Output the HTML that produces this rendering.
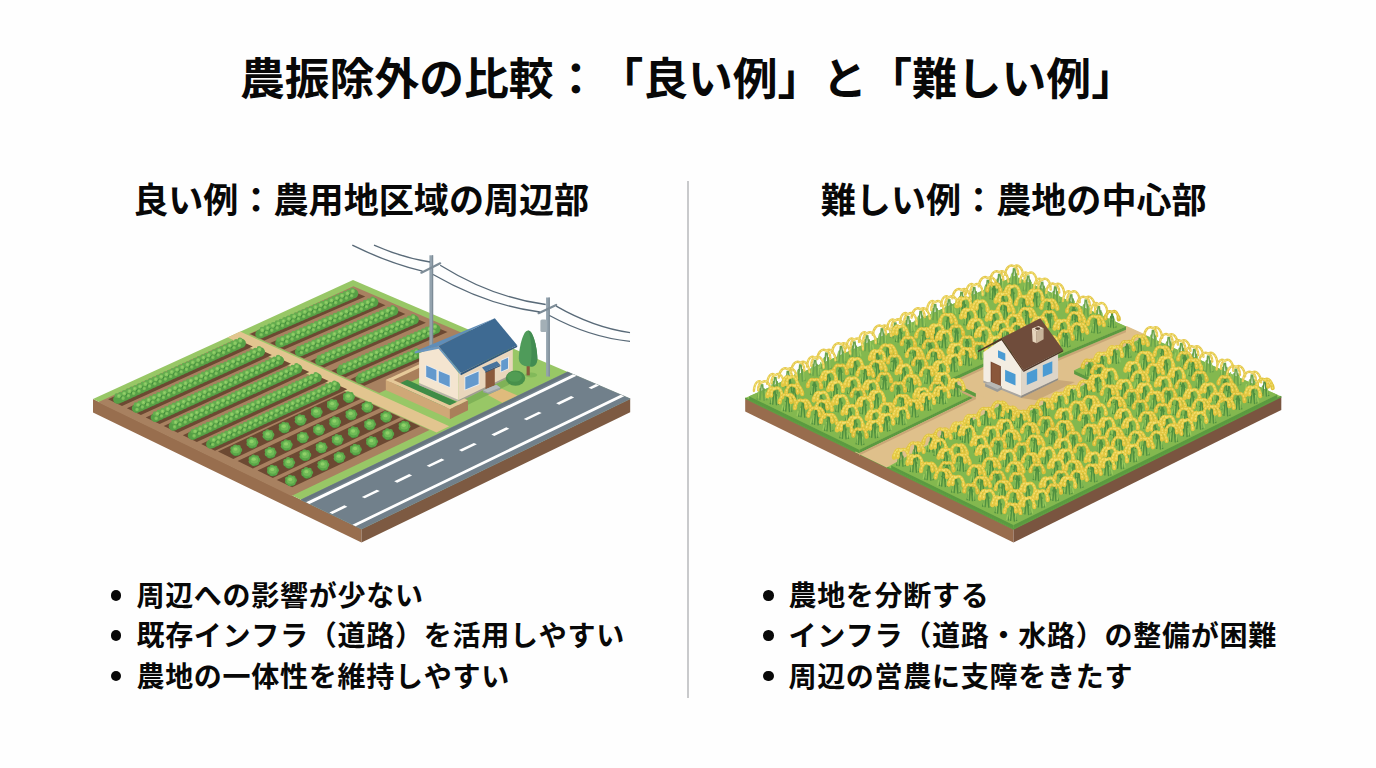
<!DOCTYPE html>
<html lang="ja"><head><meta charset="utf-8"><title>農振除外の比較</title>
<style>
html,body{margin:0;padding:0;background:#fefefe;}
body{width:1376px;height:768px;position:relative;overflow:hidden;font-family:"Liberation Sans", "Noto Sans CJK JP", sans-serif;color:#080808;}
.t{position:absolute;white-space:nowrap;font-weight:700;line-height:1;text-spacing-trim:space-all;font-kerning:none;}
#title{left:240px;top:56.5px;font-size:44.8px;letter-spacing:0px;}
.sub{font-size:35.1px;}
#sub1{left:133.2px;top:183px;}
#sub2{left:820.8px;top:183px;}
.li{font-size:28px;font-weight:700;letter-spacing:0.74px;}
.dot{position:absolute;width:10.5px;height:10.5px;border-radius:50%;background:#080808;}
#divider{position:absolute;left:686.8px;top:181px;width:2.4px;height:516.7px;background:#c9cacc;}
svg{position:absolute;left:0;top:0;filter:blur(0.45px);}
</style></head>
<body>
<svg width="1376" height="768" viewBox="0 0 1376 768">
<defs>
<g id="ra" transform="scale(1.06)"><path d="M-1.8,9L-.5,-5M1.8,9.5L.5,-5M-4,8.5L-1.4,-1M4,9L1.4,-1" stroke="#4f9040" stroke-width="1.3" fill="none"/><path d="M-3,7.5L-2.2,0M3.2,8L2.6,1M-5.5,8L-4.6,3" stroke="#9ccb5e" stroke-width="1" fill="none"/><path d="M-.3,-6.5C-3.5,-8.6 -7,-5.5 -7.6,.6M.3,-6.5C3.5,-8.6 7,-5 7.6,1.6M0,-6.3C1.6,-6.4 3.2,-4 3.3,.2" stroke="#e1c43e" stroke-width="2.8" stroke-linecap="round" fill="none"/><path d="M-7.2,-1.6L-7.6,.4M7.2,-.6L7.6,1.4M3.2,-1.6L3.3,0" stroke="#e1c43e" stroke-width="3.9" stroke-linecap="round" fill="none"/><path d="M-.3,-6.5C-3.5,-8.6 -7,-5.5 -7.6,.6M.3,-6.5C3.5,-8.6 7,-5 7.6,1.6M0,-6.3C1.6,-6.4 3.2,-4 3.3,.2" stroke="#f0dc68" stroke-width="1.3" stroke-linecap="round" stroke-dasharray="1 2" fill="none"/></g>
<g id="rb" transform="scale(1.06)"><path d="M-1.6,9L-.4,-4.5M2,9.5L.6,-4.5M-4,8.5L-1.4,-1M4.2,9L1.6,-1" stroke="#4f9040" stroke-width="1.3" fill="none"/><path d="M-3,7.5L-2.2,0M3.4,8L2.8,1M5.6,8L4.8,3.4" stroke="#9ccb5e" stroke-width="1" fill="none"/><path d="M-.3,-6C-3,-8.4 -6.2,-5.5 -6.6,1.2M.3,-6C3.8,-8.8 7.4,-4.6 7.3,2.2M-.1,-5.8C-1.6,-6 -3,-3.6 -3,.6" stroke="#e4c842" stroke-width="2.8" stroke-linecap="round" fill="none"/><path d="M-6.4,-1L-6.6,1M7.3,.2L7.3,2M-3,-1L-3,.4" stroke="#e4c842" stroke-width="3.9" stroke-linecap="round" fill="none"/><path d="M-.3,-6C-3,-8.4 -6.2,-5.5 -6.6,1.2M.3,-6C3.8,-8.8 7.4,-4.6 7.3,2.2M-.1,-5.8C-1.6,-6 -3,-3.6 -3,.6" stroke="#f2e070" stroke-width="1.3" stroke-linecap="round" stroke-dasharray="1 2" fill="none"/></g>
<g id="rc" transform="scale(1.06)"><path d="M-1.4,9L-.2,-5M1.6,9.5L.3,-5M-3.6,8.5L-1,-2M3.8,9L1,-2" stroke="#4f9040" stroke-width="1.3" fill="none"/><path d="M-2.8,7.5L-2,0M3,8L2.4,1" stroke="#9ccb5e" stroke-width="1" fill="none"/><path d="M-.3,-5.6C-3,-7.6 -5.8,-5 -6.2,.4M.3,-5.6C3.2,-7.8 6,-4.6 6.4,1.4" stroke="#dcbe3a" stroke-width="2.8" stroke-linecap="round" fill="none"/><path d="M-6,-1.6L-6.2,.2M6.2,-.6L6.4,1.2" stroke="#dcbe3a" stroke-width="3.9" stroke-linecap="round" fill="none"/><path d="M-.3,-5.6C-3,-7.6 -5.8,-5 -6.2,.4M.3,-5.6C3.2,-7.8 6,-4.6 6.4,1.4" stroke="#eed862" stroke-width="1.3" stroke-linecap="round" stroke-dasharray="1 2" fill="none"/></g>
<g id="fa" transform="scale(1.2)"><path d="M-1.8,9L-.5,-5M1.8,9.5L.5,-5M-4,8.5L-1.4,-1M4,9L1.4,-1" stroke="#6aa44c" stroke-width="1.3" fill="none"/><path d="M-3,7.5L-2.2,0M3.2,8L2.6,1M-5.5,8L-4.6,3" stroke="#9ccb5e" stroke-width="1" fill="none"/><path d="M-.3,-6.5C-3.5,-8.6 -7,-5.5 -7.6,.6M.3,-6.5C3.5,-8.6 7,-5 7.6,1.6M0,-6.3C1.6,-6.4 3.2,-4 3.3,.2" stroke="#e4c84c" stroke-width="2.0" stroke-linecap="round" fill="none"/><path d="M-.3,-6.5C-3.5,-8.6 -7,-5.5 -7.6,.6M.3,-6.5C3.5,-8.6 7,-5 7.6,1.6M0,-6.3C1.6,-6.4 3.2,-4 3.3,.2" stroke="#f1de78" stroke-width="0.9" stroke-linecap="round" stroke-dasharray="1 2" fill="none"/></g>
<g id="fb" transform="scale(1.2)"><path d="M-1.6,9L-.4,-4.5M2,9.5L.6,-4.5M-4,8.5L-1.4,-1M4.2,9L1.6,-1" stroke="#6aa44c" stroke-width="1.3" fill="none"/><path d="M-3,7.5L-2.2,0M3.4,8L2.8,1M5.6,8L4.8,3.4" stroke="#9ccb5e" stroke-width="1" fill="none"/><path d="M-.3,-6C-3,-8.4 -6.2,-5.5 -6.6,1.2M.3,-6C3.8,-8.8 7.4,-4.6 7.3,2.2M-.1,-5.8C-1.6,-6 -3,-3.6 -3,.6" stroke="#e6cc50" stroke-width="2.0" stroke-linecap="round" fill="none"/><path d="M-.3,-6C-3,-8.4 -6.2,-5.5 -6.6,1.2M.3,-6C3.8,-8.8 7.4,-4.6 7.3,2.2M-.1,-5.8C-1.6,-6 -3,-3.6 -3,.6" stroke="#f2e07c" stroke-width="0.9" stroke-linecap="round" stroke-dasharray="1 2" fill="none"/></g>
<g id="cb" transform="scale(0.93)"><circle r="5.7" cy=".6" fill="#4a933f"/><circle cx="4.1" cy="-0.2" r="2.5" fill="#5aa749"/><circle cx="2.6" cy="2.6" r="2.5" fill="#5aa749"/><circle cx="-0.9" cy="3.3" r="2.5" fill="#5aa749"/><circle cx="-3.7" cy="1.4" r="2.5" fill="#5aa749"/><circle cx="-3.7" cy="-1.8" r="2.5" fill="#5aa749"/><circle cx="-0.9" cy="-3.7" r="2.5" fill="#5aa749"/><circle cx="2.6" cy="-3.0" r="2.5" fill="#5aa749"/><ellipse rx="4.2" ry="3.8" cy="-.4" fill="#70ba57"/><ellipse cx="-.6" cy="-1.2" rx="2.2" ry="1.8" fill="#8fd068"/></g>
</defs>
<g id="left">
<polygon points="93,399 361.5,529.1 361.5,542.6 93,412.5" fill="#986e4e"/>
<polygon points="361.5,529.1 630.2,398.8 630.2,412.3 361.5,542.6" fill="#7d5a42"/>
<polygon points="353,280 630.2,398.8 361.5,529.1 93,399" fill="#98c766"/>
<polygon points="353.4,286.2 472.3,337.3 366.2,387.2 248.8,334.1" fill="#a88160"/>
<polygon points="438.2,352.1 452.8,358.5 379.3,393.1 364.8,386.6" fill="#a88160"/>
<polygon points="232.9,340.4 429.5,429.9 291.4,495.9 98.1,402.2" fill="#a88160"/>
<polygon points="240.2,331.6 449.3,426.3 436.5,432.4 227.7,337.4" fill="#e2c58f"/>
<polygon points="567.6,372 630.2,398.8 361.5,529.1 301.1,499.8" fill="#71808b" stroke="#71808b" stroke-width="0.7"/>
<polygon points="567.6,372 570.9,373.4 304.3,501.4 301.1,499.8" fill="#66757f"/>
<polygon points="573,374.3 576.6,375.8 309.5,503.9 306.1,502.2" fill="#fff"/>
<polygon points="620.8,394.8 624.1,396.2 355.6,526.2 352.4,524.7" fill="#fff"/>
<polygon points="596,384.1 599,385.4 591.5,389 588.5,387.7" fill="#fff"/>
<polygon points="571.1,396.1 574.1,397.4 559.1,404.7 556.1,403.3" fill="#fff"/>
<polygon points="538.7,411.7 541.7,413 526.7,420.3 523.7,418.9" fill="#fff"/>
<polygon points="506.3,427.3 509.3,428.7 494.3,435.9 491.3,434.5" fill="#fff"/>
<polygon points="473.9,442.9 476.9,444.3 461.9,451.5 458.9,450.1" fill="#fff"/>
<polygon points="441.5,458.5 444.5,459.9 429.5,467.1 426.6,465.7" fill="#fff"/>
<polygon points="409.2,474.1 412.1,475.5 397.2,482.7 394.2,481.3" fill="#fff"/>
<polygon points="376.8,489.7 379.8,491.1 364.8,498.3 361.8,496.9" fill="#fff"/>
<polygon points="344.4,505.3 347.4,506.7 332.4,513.9 329.4,512.5" fill="#fff"/>
<polygon points="350.9,290.4 365.3,296.6 264.4,340.5 250.2,334" fill="#6c4932"/>
<line x1="354.8" y1="295.7" x2="260.7" y2="336.3" stroke="#3f893b" stroke-width="4.8" stroke-linecap="round" stroke-dasharray="0 4.4" stroke-dashoffset="0"/>
<line x1="353.8" y1="293.5" x2="259.8" y2="334.1" stroke="#57a046" stroke-width="9.0" stroke-linecap="round"/>
<line x1="353.7" y1="293.2" x2="259.6" y2="333.8" stroke="#3f8a3b" stroke-width="2.2" stroke-linecap="round" stroke-dasharray="0 5.8" stroke-dashoffset="1.4"/>
<line x1="352.3" y1="290.1" x2="258.3" y2="330.7" stroke="#64ad4f" stroke-width="4.6" stroke-linecap="round" stroke-dasharray="0 4.1" stroke-dashoffset="0"/>
<line x1="352.8" y1="291.2" x2="258.8" y2="331.8" stroke="#84c65f" stroke-width="3.9" stroke-linecap="round" stroke-dasharray="0 5.8" stroke-dashoffset="0"/>
<line x1="354.3" y1="294.6" x2="260.2" y2="335.2" stroke="#7bbf5a" stroke-width="3.6" stroke-linecap="round" stroke-dasharray="0 5.8" stroke-dashoffset="2.9"/>
<line x1="352.7" y1="291" x2="258.7" y2="331.6" stroke="#9ad270" stroke-width="1.6" stroke-linecap="round" stroke-dasharray="0 5.8" stroke-dashoffset="0"/>
<line x1="354.2" y1="294.4" x2="260.2" y2="335" stroke="#8fca68" stroke-width="1.4" stroke-linecap="round" stroke-dasharray="0 5.8" stroke-dashoffset="2.9"/>
<polygon points="371.1,299.1 385.5,305.3 284.3,349.5 270.1,343.1" fill="#6c4932"/>
<line x1="375" y1="304.4" x2="280.7" y2="345.3" stroke="#3f893b" stroke-width="4.8" stroke-linecap="round" stroke-dasharray="0 4.4" stroke-dashoffset="0"/>
<line x1="374" y1="302.2" x2="279.7" y2="343.1" stroke="#57a046" stroke-width="9.0" stroke-linecap="round"/>
<line x1="373.9" y1="301.9" x2="279.6" y2="342.8" stroke="#3f8a3b" stroke-width="2.2" stroke-linecap="round" stroke-dasharray="0 5.8" stroke-dashoffset="1.4"/>
<line x1="372.5" y1="298.8" x2="278.3" y2="339.7" stroke="#64ad4f" stroke-width="4.6" stroke-linecap="round" stroke-dasharray="0 4.1" stroke-dashoffset="0"/>
<line x1="373" y1="299.9" x2="278.7" y2="340.8" stroke="#84c65f" stroke-width="3.9" stroke-linecap="round" stroke-dasharray="0 5.8" stroke-dashoffset="0"/>
<line x1="374.5" y1="303.3" x2="280.2" y2="344.2" stroke="#7bbf5a" stroke-width="3.6" stroke-linecap="round" stroke-dasharray="0 5.8" stroke-dashoffset="2.9"/>
<line x1="372.9" y1="299.7" x2="278.7" y2="340.6" stroke="#9ad270" stroke-width="1.6" stroke-linecap="round" stroke-dasharray="0 5.8" stroke-dashoffset="0"/>
<line x1="374.4" y1="303.1" x2="280.1" y2="344" stroke="#8fca68" stroke-width="1.4" stroke-linecap="round" stroke-dasharray="0 5.8" stroke-dashoffset="2.9"/>
<polygon points="391,307.7 405.4,313.9 304,358.4 289.8,352" fill="#6c4932"/>
<line x1="394.9" y1="313" x2="300.4" y2="354.2" stroke="#3f893b" stroke-width="4.8" stroke-linecap="round" stroke-dasharray="0 4.4" stroke-dashoffset="0"/>
<line x1="393.9" y1="310.8" x2="299.4" y2="352" stroke="#57a046" stroke-width="9.0" stroke-linecap="round"/>
<line x1="393.8" y1="310.5" x2="299.3" y2="351.7" stroke="#3f8a3b" stroke-width="2.2" stroke-linecap="round" stroke-dasharray="0 5.8" stroke-dashoffset="1.4"/>
<line x1="392.5" y1="307.4" x2="298" y2="348.6" stroke="#64ad4f" stroke-width="4.6" stroke-linecap="round" stroke-dasharray="0 4.1" stroke-dashoffset="0"/>
<line x1="392.9" y1="308.5" x2="298.4" y2="349.7" stroke="#84c65f" stroke-width="3.9" stroke-linecap="round" stroke-dasharray="0 5.8" stroke-dashoffset="0"/>
<line x1="394.4" y1="311.9" x2="299.9" y2="353.1" stroke="#7bbf5a" stroke-width="3.6" stroke-linecap="round" stroke-dasharray="0 5.8" stroke-dashoffset="2.9"/>
<line x1="392.9" y1="308.3" x2="298.4" y2="349.5" stroke="#9ad270" stroke-width="1.6" stroke-linecap="round" stroke-dasharray="0 5.8" stroke-dashoffset="0"/>
<line x1="394.3" y1="311.7" x2="299.8" y2="352.9" stroke="#8fca68" stroke-width="1.4" stroke-linecap="round" stroke-dasharray="0 5.8" stroke-dashoffset="2.9"/>
<polygon points="411.5,316.6 425.9,322.8 324.3,367.5 310.1,361.1" fill="#6c4932"/>
<line x1="415.4" y1="321.8" x2="320.6" y2="363.3" stroke="#3f893b" stroke-width="4.8" stroke-linecap="round" stroke-dasharray="0 4.4" stroke-dashoffset="0"/>
<line x1="414.4" y1="319.6" x2="319.7" y2="361.1" stroke="#57a046" stroke-width="9.0" stroke-linecap="round"/>
<line x1="414.3" y1="319.4" x2="319.6" y2="360.8" stroke="#3f8a3b" stroke-width="2.2" stroke-linecap="round" stroke-dasharray="0 5.8" stroke-dashoffset="1.4"/>
<line x1="412.9" y1="316.2" x2="318.2" y2="357.7" stroke="#64ad4f" stroke-width="4.6" stroke-linecap="round" stroke-dasharray="0 4.1" stroke-dashoffset="0"/>
<line x1="413.4" y1="317.3" x2="318.7" y2="358.8" stroke="#84c65f" stroke-width="3.9" stroke-linecap="round" stroke-dasharray="0 5.8" stroke-dashoffset="0"/>
<line x1="414.9" y1="320.7" x2="320.2" y2="362.2" stroke="#7bbf5a" stroke-width="3.6" stroke-linecap="round" stroke-dasharray="0 5.8" stroke-dashoffset="2.9"/>
<line x1="413.3" y1="317.2" x2="318.6" y2="358.6" stroke="#9ad270" stroke-width="1.6" stroke-linecap="round" stroke-dasharray="0 5.8" stroke-dashoffset="0"/>
<line x1="414.8" y1="320.6" x2="320.1" y2="362" stroke="#8fca68" stroke-width="1.4" stroke-linecap="round" stroke-dasharray="0 5.8" stroke-dashoffset="2.9"/>
<polygon points="433.1,325.9 447.5,332.1 345.6,377.2 331.4,370.7" fill="#6c4932"/>
<line x1="437" y1="331.2" x2="342" y2="372.9" stroke="#3f893b" stroke-width="4.8" stroke-linecap="round" stroke-dasharray="0 4.4" stroke-dashoffset="0"/>
<line x1="436" y1="329" x2="341" y2="370.7" stroke="#57a046" stroke-width="9.0" stroke-linecap="round"/>
<line x1="435.9" y1="328.7" x2="340.9" y2="370.5" stroke="#3f8a3b" stroke-width="2.2" stroke-linecap="round" stroke-dasharray="0 5.8" stroke-dashoffset="1.4"/>
<line x1="434.5" y1="325.6" x2="339.5" y2="367.3" stroke="#64ad4f" stroke-width="4.6" stroke-linecap="round" stroke-dasharray="0 4.1" stroke-dashoffset="0"/>
<line x1="435" y1="326.7" x2="340" y2="368.4" stroke="#84c65f" stroke-width="3.9" stroke-linecap="round" stroke-dasharray="0 5.8" stroke-dashoffset="0"/>
<line x1="436.5" y1="330.1" x2="341.5" y2="371.8" stroke="#7bbf5a" stroke-width="3.6" stroke-linecap="round" stroke-dasharray="0 5.8" stroke-dashoffset="2.9"/>
<line x1="434.9" y1="326.5" x2="339.9" y2="368.3" stroke="#9ad270" stroke-width="1.6" stroke-linecap="round" stroke-dasharray="0 5.8" stroke-dashoffset="0"/>
<line x1="436.4" y1="329.9" x2="341.4" y2="371.6" stroke="#8fca68" stroke-width="1.4" stroke-linecap="round" stroke-dasharray="0 5.8" stroke-dashoffset="2.9"/>
<polygon points="414.7,350.7 429,356.9 364.5,385.7 350.3,379.3" fill="#6c4932"/>
<line x1="418.5" y1="356" x2="360.9" y2="381.4" stroke="#3f893b" stroke-width="4.8" stroke-linecap="round" stroke-dasharray="0 4.4" stroke-dashoffset="0"/>
<line x1="417.5" y1="353.8" x2="359.9" y2="379.2" stroke="#57a046" stroke-width="9.0" stroke-linecap="round"/>
<line x1="417.4" y1="353.5" x2="359.8" y2="379" stroke="#3f8a3b" stroke-width="2.2" stroke-linecap="round" stroke-dasharray="0 5.8" stroke-dashoffset="1.4"/>
<line x1="416.1" y1="350.4" x2="358.4" y2="375.9" stroke="#64ad4f" stroke-width="4.6" stroke-linecap="round" stroke-dasharray="0 4.1" stroke-dashoffset="0"/>
<line x1="416.5" y1="351.5" x2="358.9" y2="377" stroke="#84c65f" stroke-width="3.9" stroke-linecap="round" stroke-dasharray="0 5.8" stroke-dashoffset="0"/>
<line x1="418" y1="354.9" x2="360.4" y2="380.3" stroke="#7bbf5a" stroke-width="3.6" stroke-linecap="round" stroke-dasharray="0 5.8" stroke-dashoffset="2.9"/>
<line x1="416.5" y1="351.3" x2="358.8" y2="376.8" stroke="#9ad270" stroke-width="1.6" stroke-linecap="round" stroke-dasharray="0 5.8" stroke-dashoffset="0"/>
<line x1="417.9" y1="354.7" x2="360.3" y2="380.2" stroke="#8fca68" stroke-width="1.4" stroke-linecap="round" stroke-dasharray="0 5.8" stroke-dashoffset="2.9"/>
<polygon points="238.6,339.9 252.8,346.4 122,405.9 108.1,399.2" fill="#6c4932"/>
<line x1="242.4" y1="345.3" x2="118.6" y2="401.5" stroke="#3f893b" stroke-width="4.8" stroke-linecap="round" stroke-dasharray="0 4.4" stroke-dashoffset="0"/>
<line x1="241.4" y1="343.1" x2="117.6" y2="399.3" stroke="#57a046" stroke-width="9.0" stroke-linecap="round"/>
<line x1="241.3" y1="342.8" x2="117.4" y2="399.1" stroke="#3f8a3b" stroke-width="2.2" stroke-linecap="round" stroke-dasharray="0 5.8" stroke-dashoffset="1.4"/>
<line x1="239.9" y1="339.7" x2="116" y2="396" stroke="#64ad4f" stroke-width="4.6" stroke-linecap="round" stroke-dasharray="0 4.1" stroke-dashoffset="0"/>
<line x1="240.4" y1="340.8" x2="116.5" y2="397.1" stroke="#84c65f" stroke-width="3.9" stroke-linecap="round" stroke-dasharray="0 5.8" stroke-dashoffset="0"/>
<line x1="241.9" y1="344.2" x2="118.1" y2="400.4" stroke="#7bbf5a" stroke-width="3.6" stroke-linecap="round" stroke-dasharray="0 5.8" stroke-dashoffset="2.9"/>
<line x1="240.3" y1="340.6" x2="116.5" y2="396.9" stroke="#9ad270" stroke-width="1.6" stroke-linecap="round" stroke-dasharray="0 5.8" stroke-dashoffset="0"/>
<line x1="241.8" y1="344" x2="118" y2="400.2" stroke="#8fca68" stroke-width="1.4" stroke-linecap="round" stroke-dasharray="0 5.8" stroke-dashoffset="2.9"/>
<polygon points="257.7,348.6 271.9,355.1 140.9,415 126.9,408.3" fill="#6c4932"/>
<line x1="261.5" y1="354" x2="137.4" y2="410.6" stroke="#3f893b" stroke-width="4.8" stroke-linecap="round" stroke-dasharray="0 4.4" stroke-dashoffset="0"/>
<line x1="260.5" y1="351.8" x2="136.4" y2="408.4" stroke="#57a046" stroke-width="9.0" stroke-linecap="round"/>
<line x1="260.4" y1="351.5" x2="136.3" y2="408.1" stroke="#3f8a3b" stroke-width="2.2" stroke-linecap="round" stroke-dasharray="0 5.8" stroke-dashoffset="1.4"/>
<line x1="259" y1="348.4" x2="134.9" y2="405" stroke="#64ad4f" stroke-width="4.6" stroke-linecap="round" stroke-dasharray="0 4.1" stroke-dashoffset="0"/>
<line x1="259.5" y1="349.5" x2="135.4" y2="406.1" stroke="#84c65f" stroke-width="3.9" stroke-linecap="round" stroke-dasharray="0 5.8" stroke-dashoffset="0"/>
<line x1="261" y1="352.9" x2="136.9" y2="409.5" stroke="#7bbf5a" stroke-width="3.6" stroke-linecap="round" stroke-dasharray="0 5.8" stroke-dashoffset="2.9"/>
<line x1="259.4" y1="349.3" x2="135.3" y2="406" stroke="#9ad270" stroke-width="1.6" stroke-linecap="round" stroke-dasharray="0 5.8" stroke-dashoffset="0"/>
<line x1="260.9" y1="352.7" x2="136.8" y2="409.3" stroke="#8fca68" stroke-width="1.4" stroke-linecap="round" stroke-dasharray="0 5.8" stroke-dashoffset="2.9"/>
<polygon points="276.8,357.3 291,363.8 159.7,424.1 145.7,417.4" fill="#6c4932"/>
<line x1="280.6" y1="362.7" x2="156.2" y2="419.7" stroke="#3f893b" stroke-width="4.8" stroke-linecap="round" stroke-dasharray="0 4.4" stroke-dashoffset="0"/>
<line x1="279.6" y1="360.5" x2="155.2" y2="417.5" stroke="#57a046" stroke-width="9.0" stroke-linecap="round"/>
<line x1="279.5" y1="360.2" x2="155.1" y2="417.2" stroke="#3f8a3b" stroke-width="2.2" stroke-linecap="round" stroke-dasharray="0 5.8" stroke-dashoffset="1.4"/>
<line x1="278.1" y1="357.1" x2="153.7" y2="414.1" stroke="#64ad4f" stroke-width="4.6" stroke-linecap="round" stroke-dasharray="0 4.1" stroke-dashoffset="0"/>
<line x1="278.6" y1="358.2" x2="154.2" y2="415.2" stroke="#84c65f" stroke-width="3.9" stroke-linecap="round" stroke-dasharray="0 5.8" stroke-dashoffset="0"/>
<line x1="280.1" y1="361.6" x2="155.7" y2="418.6" stroke="#7bbf5a" stroke-width="3.6" stroke-linecap="round" stroke-dasharray="0 5.8" stroke-dashoffset="2.9"/>
<line x1="278.5" y1="358" x2="154.1" y2="415" stroke="#9ad270" stroke-width="1.6" stroke-linecap="round" stroke-dasharray="0 5.8" stroke-dashoffset="0"/>
<line x1="280" y1="361.4" x2="155.6" y2="418.4" stroke="#8fca68" stroke-width="1.4" stroke-linecap="round" stroke-dasharray="0 5.8" stroke-dashoffset="2.9"/>
<polygon points="295.1,365.6 309.3,372.1 177.7,432.8 163.7,426" fill="#6c4932"/>
<line x1="298.9" y1="371" x2="174.2" y2="428.4" stroke="#3f893b" stroke-width="4.8" stroke-linecap="round" stroke-dasharray="0 4.4" stroke-dashoffset="0"/>
<line x1="297.9" y1="368.8" x2="173.2" y2="426.2" stroke="#57a046" stroke-width="9.0" stroke-linecap="round"/>
<line x1="297.8" y1="368.5" x2="173.1" y2="425.9" stroke="#3f8a3b" stroke-width="2.2" stroke-linecap="round" stroke-dasharray="0 5.8" stroke-dashoffset="1.4"/>
<line x1="296.4" y1="365.4" x2="171.7" y2="422.8" stroke="#64ad4f" stroke-width="4.6" stroke-linecap="round" stroke-dasharray="0 4.1" stroke-dashoffset="0"/>
<line x1="296.9" y1="366.5" x2="172.2" y2="423.9" stroke="#84c65f" stroke-width="3.9" stroke-linecap="round" stroke-dasharray="0 5.8" stroke-dashoffset="0"/>
<line x1="298.4" y1="369.9" x2="173.7" y2="427.3" stroke="#7bbf5a" stroke-width="3.6" stroke-linecap="round" stroke-dasharray="0 5.8" stroke-dashoffset="2.9"/>
<line x1="296.8" y1="366.4" x2="172.1" y2="423.7" stroke="#9ad270" stroke-width="1.6" stroke-linecap="round" stroke-dasharray="0 5.8" stroke-dashoffset="0"/>
<line x1="298.3" y1="369.7" x2="173.6" y2="427.1" stroke="#8fca68" stroke-width="1.4" stroke-linecap="round" stroke-dasharray="0 5.8" stroke-dashoffset="2.9"/>
<polygon points="314.5,374.4 328.7,380.9 196.8,442 182.8,435.3" fill="#6c4932"/>
<line x1="318.3" y1="379.8" x2="193.3" y2="437.6" stroke="#3f893b" stroke-width="4.8" stroke-linecap="round" stroke-dasharray="0 4.4" stroke-dashoffset="0"/>
<line x1="317.3" y1="377.6" x2="192.3" y2="435.4" stroke="#57a046" stroke-width="9.0" stroke-linecap="round"/>
<line x1="317.2" y1="377.4" x2="192.2" y2="435.1" stroke="#3f8a3b" stroke-width="2.2" stroke-linecap="round" stroke-dasharray="0 5.8" stroke-dashoffset="1.4"/>
<line x1="315.7" y1="374.3" x2="190.8" y2="432" stroke="#64ad4f" stroke-width="4.6" stroke-linecap="round" stroke-dasharray="0 4.1" stroke-dashoffset="0"/>
<line x1="316.2" y1="375.4" x2="191.3" y2="433.1" stroke="#84c65f" stroke-width="3.9" stroke-linecap="round" stroke-dasharray="0 5.8" stroke-dashoffset="0"/>
<line x1="317.8" y1="378.7" x2="192.8" y2="436.5" stroke="#7bbf5a" stroke-width="3.6" stroke-linecap="round" stroke-dasharray="0 5.8" stroke-dashoffset="2.9"/>
<line x1="316.2" y1="375.2" x2="191.2" y2="432.9" stroke="#9ad270" stroke-width="1.6" stroke-linecap="round" stroke-dasharray="0 5.8" stroke-dashoffset="0"/>
<line x1="317.7" y1="378.5" x2="192.7" y2="436.3" stroke="#8fca68" stroke-width="1.4" stroke-linecap="round" stroke-dasharray="0 5.8" stroke-dashoffset="2.9"/>
<polygon points="333.1,382.9 347.3,389.3 215,450.8 201.1,444.1" fill="#6c4932"/>
<line x1="336.9" y1="388.3" x2="211.6" y2="446.4" stroke="#3f893b" stroke-width="4.8" stroke-linecap="round" stroke-dasharray="0 4.4" stroke-dashoffset="0"/>
<line x1="335.9" y1="386.1" x2="210.6" y2="444.2" stroke="#57a046" stroke-width="9.0" stroke-linecap="round"/>
<line x1="335.7" y1="385.8" x2="210.5" y2="443.9" stroke="#3f8a3b" stroke-width="2.2" stroke-linecap="round" stroke-dasharray="0 5.8" stroke-dashoffset="1.4"/>
<line x1="334.3" y1="382.7" x2="209" y2="440.8" stroke="#64ad4f" stroke-width="4.6" stroke-linecap="round" stroke-dasharray="0 4.1" stroke-dashoffset="0"/>
<line x1="334.8" y1="383.8" x2="209.5" y2="441.9" stroke="#84c65f" stroke-width="3.9" stroke-linecap="round" stroke-dasharray="0 5.8" stroke-dashoffset="0"/>
<line x1="336.4" y1="387.2" x2="211.1" y2="445.3" stroke="#7bbf5a" stroke-width="3.6" stroke-linecap="round" stroke-dasharray="0 5.8" stroke-dashoffset="2.9"/>
<line x1="334.7" y1="383.6" x2="209.5" y2="441.7" stroke="#9ad270" stroke-width="1.6" stroke-linecap="round" stroke-dasharray="0 5.8" stroke-dashoffset="0"/>
<line x1="336.3" y1="387" x2="211" y2="445.1" stroke="#8fca68" stroke-width="1.4" stroke-linecap="round" stroke-dasharray="0 5.8" stroke-dashoffset="2.9"/>
<polygon points="344.8,391.9 360.4,399 233.3,458.9 218,451.5" fill="#6c4932"/>
<use href="#cb" x="348.8" y="397.1"/>
<use href="#cb" x="332.7" y="404.7"/>
<use href="#cb" x="316.6" y="412.3"/>
<use href="#cb" x="300.5" y="419.9"/>
<use href="#cb" x="284.4" y="427.4"/>
<use href="#cb" x="268.3" y="435"/>
<use href="#cb" x="252.2" y="442.6"/>
<use href="#cb" x="236.1" y="450.2"/>
<polygon points="364.8,401 380.3,408.1 252.9,468.4 237.6,461" fill="#6c4932"/>
<use href="#cb" x="367.3" y="406.9"/>
<use href="#cb" x="351.2" y="414.5"/>
<use href="#cb" x="335" y="422.1"/>
<use href="#cb" x="318.9" y="429.8"/>
<use href="#cb" x="302.7" y="437.4"/>
<use href="#cb" x="286.6" y="445"/>
<use href="#cb" x="270.4" y="452.6"/>
<use href="#cb" x="254.3" y="460.3"/>
<polygon points="385,410.2 400.5,417.3 272.8,478 257.5,470.6" fill="#6c4932"/>
<use href="#cb" x="386.1" y="416.8"/>
<use href="#cb" x="369.9" y="424.4"/>
<use href="#cb" x="353.7" y="432.1"/>
<use href="#cb" x="337.5" y="439.8"/>
<use href="#cb" x="321.4" y="447.5"/>
<use href="#cb" x="305.2" y="455.1"/>
<use href="#cb" x="289" y="462.8"/>
<use href="#cb" x="272.8" y="470.5"/>
<polygon points="404.6,419.1 420.2,426.2 292.2,487.3 276.8,479.9" fill="#6c4932"/>
<use href="#cb" x="404.3" y="426.4"/>
<use href="#cb" x="388.1" y="434.1"/>
<use href="#cb" x="371.9" y="441.8"/>
<use href="#cb" x="355.7" y="449.6"/>
<use href="#cb" x="339.4" y="457.3"/>
<use href="#cb" x="323.2" y="465"/>
<use href="#cb" x="307" y="472.8"/>
<use href="#cb" x="290.8" y="480.5"/>
<rect x="429.4" y="255.3" width="3.7" height="94.7" fill="#93a2ad"/>
<rect x="432" y="255.3" width="1.2" height="94.7" fill="#7d8c97"/>
<line x1="421.4" y1="272.7" x2="440.2" y2="263.3" stroke="#7d8c97" stroke-width="2.2" stroke-linecap="round"/>
<polygon points="385.9,380 389.7,381.7 389.7,391.7 385.9,390" fill="#cfa877"/>
<polygon points="389.7,381.7 443.4,356.4 443.4,366.4 389.7,391.7" fill="#a97f5a"/>
<polygon points="439.6,354.7 443.4,356.4 389.7,381.7 385.9,380" fill="#e6c999"/>
<polygon points="394.2,389.4 446.8,413 460.4,406.5 407.7,383" fill="#347c3d"/>
<polygon points="395.6,385.2 448.1,408.9 459.9,403.3 407.2,379.7" fill="#3f8c47"/>
<polygon points="484.2,393.1 497.5,386.8 517.4,395.5 502.2,402.8" fill="#dfbb7c"/>
<polygon points="458.6,401.9 512.8,375.6 520.6,378.9 467.5,405" fill="#7fb257"/>
<polygon points="419.1,382.8 458.6,399.7 458.6,401.9 419.1,385.2" fill="#b9b3aa"/>
<polygon points="458.6,399.7 512.8,373.4 512.8,375.6 458.6,401.9" fill="#a39d94"/>
<polygon points="419.1,353.1 438.6,346.6 458.6,373.1 458.6,400 419.1,383.1" fill="#f4e5d0"/>
<polygon points="458.6,373.1 512.8,349.1 512.8,373.8 458.6,400" fill="#e9d6bc"/>
<polygon points="425.6,364.7 437,369.5 437,382.2 425.6,377.2" fill="#e8eef4"/>
<polygon points="438.1,370 450.3,375.2 450.3,388 438.1,382.8" fill="#e8eef4"/>
<polygon points="426.2,365.6 436.4,370 436.4,381.2 426.2,376.7" fill="#6399cd"/>
<polygon points="438.8,370.9 449.7,375.6 449.7,387 438.8,382.3" fill="#6399cd"/>
<polygon points="464.5,376.6 479.4,370.3 479.4,384.7 464.5,390.6" fill="#e8eef4"/>
<polygon points="465.3,377.2 478.6,371.6 478.6,384.1 465.3,389.5" fill="#6399cd"/>
<polygon points="500.5,360.2 508.8,356.6 508.8,369.1 500.5,372.5" fill="#e8eef4"/>
<polygon points="501.2,360.8 508,357.8 508,368.4 501.2,371.4" fill="#6399cd"/>
<polygon points="485.5,371.6 494.8,367.7 494.8,385.5 485.5,389.4" fill="#8a5a3c"/>
<polygon points="483.1,390.3 496.4,384.7 500.3,387.5 500.3,389.4 489.4,394.1 483.1,392.2" fill="#9aa0a4"/>
<polygon points="483.1,390.3 496.4,384.7 500.3,387.5 487.8,392.5" fill="#b4babd"/>
<polygon points="414.7,351.6 494.8,318.3 438.6,346.2" fill="#5f8db8"/>
<polygon points="438.6,346.2 494.8,318.3 517.2,345.3 460.9,373.1" fill="#3e6a92"/>
<polygon points="414.7,351.6 438.6,346.2 460.9,373.1 460.9,375.3 438.6,348.8 414.7,353.4" fill="#6a97c0"/>
<polygon points="460.9,373.1 517.2,345.3 517.2,346.9 460.9,375.3" fill="#33597c"/>
<polygon points="482,367.5 496.9,361.2 500.3,365 485.3,371.6" fill="#46739d"/>
<polygon points="485.3,371.6 500.3,365 500.3,366.2 485.3,372.8" fill="#33597c"/>
<ellipse cx="515.5" cy="378.1" rx="9.8" ry="7.6" fill="#47904b"/>
<ellipse cx="514.5" cy="376.6" rx="7.4" ry="5.2" fill="#519c53"/>
<ellipse cx="531.1" cy="374.9" rx="6" ry="2.5" fill="#82b95a"/>
<rect x="526.6" y="364.4" width="3.2" height="11" fill="#8a5a3c"/>
<path d="M528.1 330.4C533.6 330.4 537.4 349.4 537.4 358.4C537.4 368.9 518.8 368.9 518.8 358.4C518.8 349.4 522.6 330.4 528.1 330.4Z" fill="#4f9b5a"/>
<path d="M528.1 330.4C533.6 330.4 537.4 349.4 537.4 358.4C537.4 367.9 530.1 366.9 530.1 366.4C533.1 352.4 531.1 336.4 528.1 330.4Z" fill="#428c52"/>
<polygon points="385.9,380 449.9,408.9 449.9,418.9 385.9,390" fill="#cfa877"/>
<polygon points="449.9,408.9 453.7,407.1 453.7,417.1 449.9,418.9" fill="#a97f5a"/>
<polygon points="389.6,378.3 453.7,407.1 449.9,408.9 385.9,380" fill="#e6c999"/>
<polygon points="446.1,407.1 449.9,408.9 449.9,418.9 446.1,417.1" fill="#cfa877"/>
<polygon points="449.9,408.9 468,400.2 468,410.2 449.9,418.9" fill="#a97f5a"/>
<polygon points="464.2,398.5 468,400.2 449.9,408.9 446.1,407.1" fill="#e6c999"/>
<rect x="546.1" y="297.5" width="3.7" height="79" fill="#93a2ad"/>
<rect x="548.6" y="297.5" width="1.2" height="79" fill="#7d8c97"/>
<line x1="538.6" y1="313.2" x2="556.2" y2="305" stroke="#7d8c97" stroke-width="2.2" stroke-linecap="round"/>
<rect x="540.4" y="319.4" width="6.4" height="12.6" rx="1.6" fill="#a3afb6"/>
<path d="M352.3 245.2Q387.4 262.6 422.5 271.2" fill="none" stroke="#596a78" stroke-width="1.35"/>
<path d="M374 245.2Q402 257.6 430 262" fill="none" stroke="#596a78" stroke-width="1.35"/>
<path d="M440.2 265.2Q493 297.9 545.7 304.5" fill="none" stroke="#596a78" stroke-width="1.35"/>
<path d="M433.1 274.5Q486.4 305.2 539.8 312" fill="none" stroke="#596a78" stroke-width="1.35"/>
<path d="M556.2 306.2Q593.1 327.4 630 332.7" fill="none" stroke="#596a78" stroke-width="1.35"/>
<path d="M549.5 315.5Q589.8 337.4 630 341.3" fill="none" stroke="#596a78" stroke-width="1.35"/>
</g>
<g id="right">
<polygon points="745.2,398.1 1013.5,528.9 1013.5,542.4 745.2,411.6" fill="#986c4d"/>
<polygon points="1013.5,528.9 1281.3,396.5 1281.3,410 1013.5,542.4" fill="#7a5540"/>
<polygon points="1014.5,276 1281.3,396.5 1013.5,528.9 745.2,398.1" fill="#8fc357"/>
<path d="M745.2 398.1L1013.5 528.9L1281.3 396.5" fill="none" stroke="#5f9f42" stroke-width="1.6"/>
<polygon points="1126.6,326.1 1147.6,335.6 1000.7,405.2 886.6,467.5 854.7,452 975.6,393.4 1048.9,358.9" fill="#dfc08b"/>
<polygon points="1020.9,346 1094.6,380 1021.3,414.9 947.5,380.1" fill="#dfc08b"/>
<polygon points="1014.5,276 1126,326.4 1048.9,358.9 1020.9,346 947.5,380.1 975.6,393.4 859.2,449.8 749.2,396.3" fill="#83b84f"/>
<polygon points="1147.1,335.9 1277.3,394.7 1013.5,525 891.2,465.4 1000.7,405.2 1021.3,414.9 1094.6,380 1074.1,370.5" fill="#83b84f"/>
<polygon points="749.2,396.3 859.2,449.8 859.2,453.2 749.2,399.7" fill="#5b9a40"/>
<polygon points="975.6,393.4 859.2,449.8 859.2,453.2 975.6,396.8" fill="#5b9a40"/>
<polygon points="975.6,396.8 859.2,453.2 859.2,455.6 975.6,399.2" fill="#c9a777"/>
<polygon points="947.5,383.5 975.6,396.8 975.6,399.2 947.5,385.9" fill="#c9a777"/>
<polygon points="1126,329.8 1048.9,362.3 1048.9,364.7 1126,332.2" fill="#c9a777"/>
<polygon points="1020.9,349.4 947.5,383.5 947.5,385.9 1020.9,351.8" fill="#c9a777"/>
<polygon points="947.5,380.1 975.6,393.4 975.6,396.8 947.5,383.5" fill="#5b9a40"/>
<polygon points="1126,326.4 1048.9,358.9 1048.9,362.3 1126,329.8" fill="#5b9a40"/>
<polygon points="1020.9,346 947.5,380.1 947.5,383.5 1020.9,349.4" fill="#5b9a40"/>
<polygon points="1020.9,346 1048.9,358.9 1048.9,362.3 1020.9,349.4" fill="#5b9a40"/>
<polygon points="1074.1,370.5 1094.6,380 1094.6,383.4 1074.1,373.9" fill="#5b9a40"/>
<polygon points="891.2,465.4 1013.5,525 1013.5,528.4 891.2,468.8" fill="#5b9a40"/>
<polygon points="1277.3,394.7 1013.5,525 1013.5,528.4 1277.3,398.1" fill="#5b9a40"/>
<use href="#fa" x="1014.2" y="274.1"/>
<use href="#fa" x="999.3" y="279.8"/>
<use href="#fb" x="1028" y="280.8"/>
<use href="#fa" x="987.9" y="285.7"/>
<use href="#fb" x="1041.9" y="287"/>
<use href="#rc" x="993.8" y="290.3"/>
<use href="#fa" x="1055.3" y="292.2"/>
<use href="#fb" x="974" y="292.3"/>
<use href="#rb" x="1011.9" y="293.1"/>
<use href="#rb" x="1034.9" y="297.3"/>
<use href="#fa" x="961.6" y="297.6"/>
<use href="#fb" x="1070.9" y="299.6"/>
<use href="#rb" x="1002.6" y="300.6"/>
<use href="#ra" x="1024" y="303.6"/>
<use href="#fb" x="948.9" y="304.5"/>
<use href="#rb" x="963.4" y="305.2"/>
<use href="#fa" x="1085.9" y="305.4"/>
<use href="#ra" x="1049.3" y="307.3"/>
<use href="#rb" x="979.8" y="308.2"/>
<use href="#fb" x="934.9" y="309.3"/>
<use href="#ra" x="1005.6" y="310.6"/>
<use href="#rc" x="1073.7" y="311.2"/>
<use href="#fb" x="1098.6" y="311.4"/>
<use href="#ra" x="1027.3" y="316"/>
<use href="#rb" x="968.1" y="316.4"/>
<use href="#fa" x="920.7" y="316.8"/>
<use href="#rc" x="1112" y="318.1"/>
<use href="#rc" x="1049" y="318.2"/>
<use href="#rb" x="993.7" y="318.6"/>
<use href="#ra" x="1076.4" y="320.1"/>
<use href="#fb" x="907.9" y="321.4"/>
<use href="#ra" x="948.1" y="321.8"/>
<use href="#ra" x="1015" y="322.5"/>
<use href="#ra" x="1095.9" y="323.7"/>
<use href="#rb" x="1039.3" y="324.5"/>
<use href="#rb" x="975.4" y="326.9"/>
<use href="#rb" x="1061.5" y="327.6"/>
<use href="#fb" x="895.1" y="327.7"/>
<use href="#rb" x="1000.4" y="328.5"/>
<use href="#ra" x="1019" y="330.9"/>
<use href="#ra" x="1079.2" y="331.2"/>
<use href="#rb" x="936.1" y="332"/>
<use href="#rc" x="956.4" y="332.6"/>
<use href="#rb" x="899.7" y="333.1"/>
<use href="#fa" x="882" y="334.1"/>
<use href="#rb" x="982.8" y="335.1"/>
<use href="#ra" x="924.1" y="336.1"/>
<use href="#ra" x="1007.6" y="336.6"/>
<use href="#ra" x="1036" y="337.2"/>
<use href="#rc" x="1066" y="337.4"/>
<use href="#rb" x="943.7" y="338.4"/>
<use href="#fb" x="866.9" y="340.5"/>
<use href="#rc" x="967.1" y="343.4"/>
<use href="#rb" x="1050.4" y="343.8"/>
<use href="#rc" x="908.3" y="344"/>
<use href="#rb" x="994.5" y="344.2"/>
<use href="#fb" x="854.2" y="346.8"/>
<use href="#rc" x="930.2" y="347.1"/>
<use href="#rc" x="979.5" y="349.8"/>
<use href="#rb" x="955.5" y="351.3"/>
<use href="#fa" x="841.1" y="351.8"/>
<use href="#ra" x="887.7" y="352.5"/>
<use href="#ra" x="914.8" y="355.6"/>
<use href="#ra" x="967.3" y="356"/>
<use href="#ra" x="935.9" y="357.3"/>
<use href="#rb" x="876.9" y="357.8"/>
<use href="#fa" x="826.4" y="358.4"/>
<use href="#rb" x="952.7" y="362.1"/>
<use href="#rc" x="894.5" y="362.2"/>
<use href="#rc" x="919.7" y="364.3"/>
<use href="#fb" x="814.9" y="365.1"/>
<use href="#rb" x="854.8" y="365.8"/>
<use href="#ra" x="877.7" y="368.5"/>
<use href="#rb" x="940.3" y="368.8"/>
<use href="#fa" x="800.4" y="370.3"/>
<use href="#rc" x="840.1" y="371.8"/>
<use href="#rb" x="903.5" y="372.2"/>
<use href="#ra" x="865.4" y="374.3"/>
<use href="#ra" x="928.9" y="374.6"/>
<use href="#fa" x="787.9" y="376.8"/>
<use href="#rb" x="828.3" y="378.5"/>
<use href="#rc" x="884.4" y="380"/>
<use href="#rb" x="942.1" y="380.5"/>
<use href="#fb" x="775.1" y="382.3"/>
<use href="#ra" x="911.7" y="383"/>
<use href="#rb" x="789.8" y="383.9"/>
<use href="#rb" x="851.7" y="385.1"/>
<use href="#rc" x="814.4" y="385.9"/>
<use href="#rb" x="955.9" y="386.9"/>
<use href="#rb" x="870.5" y="388.1"/>
<use href="#rb" x="835.2" y="389"/>
<use href="#rc" x="937.2" y="389"/>
<use href="#fb" x="761.8" y="389.5"/>
<use href="#rc" x="898.3" y="389.5"/>
<use href="#ra" x="794.2" y="392.6"/>
<use href="#rb" x="941.1" y="394.4"/>
<use href="#rb" x="774.4" y="395.2"/>
<use href="#rc" x="858.1" y="395.5"/>
<use href="#rb" x="921.3" y="395.8"/>
<use href="#rb" x="876.3" y="398.4"/>
<use href="#rb" x="820.7" y="399.5"/>
<use href="#rb" x="926.3" y="400.9"/>
<use href="#ra" x="787.6" y="402.1"/>
<use href="#rb" x="839.9" y="402.8"/>
<use href="#ra" x="902.7" y="402.8"/>
<use href="#rb" x="864" y="404.8"/>
<use href="#ra" x="802.9" y="407.7"/>
<use href="#ra" x="913.9" y="407.7"/>
<use href="#ra" x="823.9" y="408.4"/>
<use href="#ra" x="887.5" y="411"/>
<use href="#rb" x="849.5" y="412.7"/>
<use href="#rb" x="900.5" y="415.2"/>
<use href="#ra" x="816.3" y="415.3"/>
<use href="#rb" x="873.7" y="417.9"/>
<use href="#rb" x="885.5" y="421.5"/>
<use href="#ra" x="828.8" y="421.8"/>
<use href="#rb" x="855" y="424.2"/>
<use href="#rb" x="873.3" y="428.3"/>
<use href="#rb" x="844" y="429.3"/>
<use href="#rc" x="859.9" y="435.4"/>
<polygon points="1021.1,397.9 1058.1,380 1074.9,382 1036.6,400.3" fill="#c9a878"/>
<polygon points="983.4,380.2 1021.1,395.3 1021.1,397.9 983.4,382.6" fill="#a9a6a0"/>
<polygon points="1021.1,395.3 1058.1,377.8 1058.1,380 1021.1,397.9" fill="#8f8c87"/>
<polygon points="983.4,352.3 1002,339.2 1021.1,368.7 1021.1,395.7 983.4,380.6" fill="#f3ede2"/>
<polygon points="1021.1,368.7 1058.1,352.9 1058.1,378.2 1021.1,395.7" fill="#ddd5c8"/>
<polygon points="990.7,361.6 1000.9,366.2 1000.9,386.9 990.7,382" fill="#7a4a33"/>
<polygon points="991.8,362.9 999.8,366.5 999.8,386.2 991.8,382.4" fill="#8a573b"/>
<polygon points="998,350.3 1005.3,353.6 1005.3,361.1 998,357.6" fill="#4a9bd3"/>
<polygon points="1005.1,369.8 1015.5,374.2 1015.5,385.5 1005.1,380.9" fill="#4a9bd3"/>
<polygon points="1026.8,373.1 1037.2,368.5 1037.2,380.4 1026.8,384.9" fill="#4a9bd3"/>
<polygon points="1042.8,365.3 1052.3,361.3 1052.3,372.9 1042.8,377.1" fill="#4a9bd3"/>
<polygon points="985.1,383.8 990.2,381.7 1002,386.6 1002,389.3 997.4,392.1 985.1,386.6" fill="#9a9a98"/>
<polygon points="985.1,383.8 990.2,381.7 1002,386.6 997.4,389.3" fill="#b8b8b5"/>
<polygon points="977.9,350.7 1040.3,318.2 1001.6,338.1" fill="#8a6450"/>
<polygon points="1001.6,338.1 1040.3,318.2 1063.2,350.1 1023.5,370.2" fill="#6f4c3b"/>
<polygon points="977.9,350.7 1001.6,338.1 1023.5,370.2 1023.5,372 1001.6,340.3 977.9,352.3" fill="#4f3528"/>
<polygon points="1023.5,370.2 1063.2,350.1 1063.2,351.6 1023.5,372" fill="#4f3528"/>
<polygon points="1031.9,328.6 1036.6,331.2 1036.6,343.2 1032.6,341.4" fill="#e6d5bd"/>
<polygon points="1036.6,331.2 1043.6,328.3 1043.6,339.2 1036.6,343.2" fill="#c9b59b"/>
<polygon points="1031.9,328.6 1038.5,326.1 1043.6,328.3 1036.6,331.2" fill="#f0e2cc"/>
<ellipse cx="1037.7" cy="328.6" rx="2.6" ry="1.3" fill="#5a4030"/>
<use href="#fa" x="1153.1" y="335.8"/>
<use href="#fa" x="1168.8" y="342.7"/>
<use href="#ra" x="1139.8" y="343.3"/>
<use href="#rc" x="1127" y="348.1"/>
<use href="#fa" x="1181.3" y="348.9"/>
<use href="#rb" x="1114.3" y="353.9"/>
<use href="#ra" x="1162.5" y="354.3"/>
<use href="#fa" x="1194.3" y="354.8"/>
<use href="#rc" x="1184.7" y="359.2"/>
<use href="#ra" x="1145.2" y="359.9"/>
<use href="#rb" x="1101.6" y="360.4"/>
<use href="#fa" x="1208.3" y="361.4"/>
<use href="#rb" x="1165.5" y="364.3"/>
<use href="#rc" x="1089.3" y="366.7"/>
<use href="#ra" x="1193.2" y="367.2"/>
<use href="#fb" x="1224.6" y="368.1"/>
<use href="#rb" x="1132.4" y="369.6"/>
<use href="#ra" x="1155.1" y="371.8"/>
<use href="#rc" x="1098.6" y="372.1"/>
<use href="#fa" x="1236" y="374.5"/>
<use href="#rb" x="1176.1" y="375.4"/>
<use href="#rb" x="1108.7" y="376.3"/>
<use href="#rc" x="1199.9" y="378.7"/>
<use href="#ra" x="1140.2" y="379.3"/>
<use href="#fa" x="1252" y="380.4"/>
<use href="#rb" x="1095.9" y="382.6"/>
<use href="#rc" x="1225" y="383.3"/>
<use href="#rb" x="1162.8" y="384.4"/>
<use href="#ra" x="1264.6" y="386.6"/>
<use href="#rc" x="1183" y="386.9"/>
<use href="#rb" x="1123.4" y="387.6"/>
<use href="#ra" x="1085.8" y="388.7"/>
<use href="#rb" x="1207.8" y="391.1"/>
<use href="#rb" x="1144.1" y="391.1"/>
<use href="#ra" x="1229.2" y="391.3"/>
<use href="#ra" x="1109.7" y="393.4"/>
<use href="#rb" x="1071.4" y="393.7"/>
<use href="#rb" x="1252.5" y="394"/>
<use href="#rc" x="1168.7" y="395.3"/>
<use href="#rb" x="1191.8" y="396.8"/>
<use href="#rc" x="1131.8" y="397"/>
<use href="#ra" x="1155" y="399.6"/>
<use href="#rc" x="1237.8" y="399.9"/>
<use href="#rb" x="1058.8" y="400.4"/>
<use href="#ra" x="1217.8" y="400.7"/>
<use href="#ra" x="1091" y="404"/>
<use href="#ra" x="1116.7" y="405.1"/>
<use href="#ra" x="1177.3" y="405.9"/>
<use href="#ra" x="1225.8" y="406.3"/>
<use href="#ra" x="1044.6" y="406.6"/>
<use href="#ra" x="1201.5" y="406.9"/>
<use href="#rc" x="1140.2" y="407.4"/>
<use href="#ra" x="1000.2" y="409.5"/>
<use href="#ra" x="1078.2" y="409.5"/>
<use href="#rc" x="1162.3" y="411.1"/>
<use href="#rb" x="1098.1" y="411.8"/>
<use href="#rc" x="1034.1" y="412.9"/>
<use href="#ra" x="1211.7" y="413.6"/>
<use href="#ra" x="1010.4" y="414.5"/>
<use href="#ra" x="1186" y="415.8"/>
<use href="#ra" x="986.2" y="415.9"/>
<use href="#rb" x="1063.4" y="416.4"/>
<use href="#rb" x="1123.1" y="416.6"/>
<use href="#ra" x="1021.3" y="418.7"/>
<use href="#rc" x="1085.9" y="419.1"/>
<use href="#rb" x="1198.5" y="419.7"/>
<use href="#ra" x="1147.9" y="419.8"/>
<use href="#rb" x="971.3" y="422.6"/>
<use href="#rb" x="1166.8" y="423.6"/>
<use href="#rc" x="1045.7" y="424.1"/>
<use href="#rb" x="1106.3" y="425.4"/>
<use href="#rb" x="1130.1" y="426.1"/>
<use href="#rb" x="1185" y="427"/>
<use href="#rb" x="1004.2" y="427.4"/>
<use href="#ra" x="1064.7" y="428.8"/>
<use href="#rb" x="1154.5" y="429.2"/>
<use href="#rb" x="958.4" y="430"/>
<use href="#ra" x="1030" y="431.2"/>
<use href="#ra" x="1173.4" y="432.4"/>
<use href="#ra" x="1091.4" y="432.5"/>
<use href="#rb" x="966.5" y="433.4"/>
<use href="#rb" x="990.5" y="434.3"/>
<use href="#rc" x="1053.1" y="435.1"/>
<use href="#ra" x="1114.7" y="435.8"/>
<use href="#ra" x="942.7" y="436.4"/>
<use href="#ra" x="1011.5" y="438.1"/>
<use href="#rc" x="1073.5" y="439.2"/>
<use href="#ra" x="1137.3" y="439.4"/>
<use href="#ra" x="1158.6" y="439.5"/>
<use href="#ra" x="931.2" y="442.7"/>
<use href="#ra" x="1035.5" y="443.4"/>
<use href="#rb" x="978.5" y="443.6"/>
<use href="#rc" x="1100.8" y="443.9"/>
<use href="#ra" x="1120.7" y="444.5"/>
<use href="#rc" x="998.3" y="445.3"/>
<use href="#ra" x="1145" y="445.8"/>
<use href="#rb" x="1062.4" y="446.2"/>
<use href="#rb" x="938.1" y="446.9"/>
<use href="#rc" x="1021.8" y="450.3"/>
<use href="#ra" x="915.6" y="450.4"/>
<use href="#rc" x="1081.3" y="451.1"/>
<use href="#ra" x="958.9" y="452.3"/>
<use href="#rb" x="1132" y="452.3"/>
<use href="#rb" x="983.5" y="452.9"/>
<use href="#rb" x="1108.7" y="454.7"/>
<use href="#rb" x="1046.7" y="455"/>
<use href="#rb" x="945.5" y="456.6"/>
<use href="#rb" x="900.9" y="456.7"/>
<use href="#rb" x="1065.5" y="457.1"/>
<use href="#rb" x="1007.3" y="457.7"/>
<use href="#rb" x="1119.2" y="459.2"/>
<use href="#rb" x="1092.6" y="460.1"/>
<use href="#ra" x="1030.8" y="461"/>
<use href="#ra" x="961.7" y="461.8"/>
<use href="#rb" x="914.4" y="462.8"/>
<use href="#ra" x="991.5" y="465.8"/>
<use href="#rb" x="1106.5" y="466"/>
<use href="#rb" x="1055.8" y="466.2"/>
<use href="#ra" x="1074" y="468.6"/>
<use href="#rc" x="946.8" y="469.2"/>
<use href="#ra" x="1015.4" y="470.1"/>
<use href="#ra" x="929" y="470.7"/>
<use href="#rc" x="1037" y="471"/>
<use href="#ra" x="1092.8" y="472.3"/>
<use href="#ra" x="976.5" y="473.2"/>
<use href="#ra" x="943.5" y="477.1"/>
<use href="#rc" x="1061.4" y="478.1"/>
<use href="#ra" x="1078.8" y="478.3"/>
<use href="#rc" x="997.4" y="478.4"/>
<use href="#rc" x="1017.5" y="479.9"/>
<use href="#rb" x="955.8" y="483.6"/>
<use href="#rb" x="1067.6" y="484.6"/>
<use href="#ra" x="982" y="484.7"/>
<use href="#rb" x="1047.6" y="485.2"/>
<use href="#ra" x="1003.5" y="488.8"/>
<use href="#rb" x="1027.6" y="490.3"/>
<use href="#rc" x="970.8" y="491.2"/>
<use href="#rc" x="1054.3" y="491.4"/>
<use href="#rb" x="986.8" y="497.7"/>
<use href="#ra" x="1015.1" y="498"/>
<use href="#rb" x="1039.9" y="498"/>
<use href="#rb" x="999.2" y="504.2"/>
<use href="#rb" x="1026.6" y="505"/>
<use href="#ra" x="1012.5" y="511.5"/>
</g>
</svg>
<div class="t" id="title">農振除外の比較：「良い例」と「難しい例」</div>
<div class="t sub" id="sub1">良い例：農用地区域の周辺部</div>
<div class="t sub" id="sub2">難しい例：農地の中心部</div>
<div id="divider"></div>
<span class="dot" style="left:110.75px;top:590.15px"></span><div class="t li" style="left:136.4px;top:583px">周辺への影響が少ない</div>
<span class="dot" style="left:110.75px;top:630.35px"></span><div class="t li" style="left:136.4px;top:623.2px">既存インフラ（道路）を活用しやすい</div>
<span class="dot" style="left:110.75px;top:670.65px"></span><div class="t li" style="left:136.4px;top:663.5px">農地の一体性を維持しやすい</div>

<span class="dot" style="left:763.25px;top:590.15px"></span><div class="t li" style="left:788.4px;top:583px">農地を分断する</div>
<span class="dot" style="left:763.25px;top:630.35px"></span><div class="t li" style="left:788.4px;top:623.2px">インフラ（道路・水路）の整備が困難</div>
<span class="dot" style="left:763.25px;top:670.65px"></span><div class="t li" style="left:788.4px;top:663.5px">周辺の営農に支障をきたす</div>

</body></html>
